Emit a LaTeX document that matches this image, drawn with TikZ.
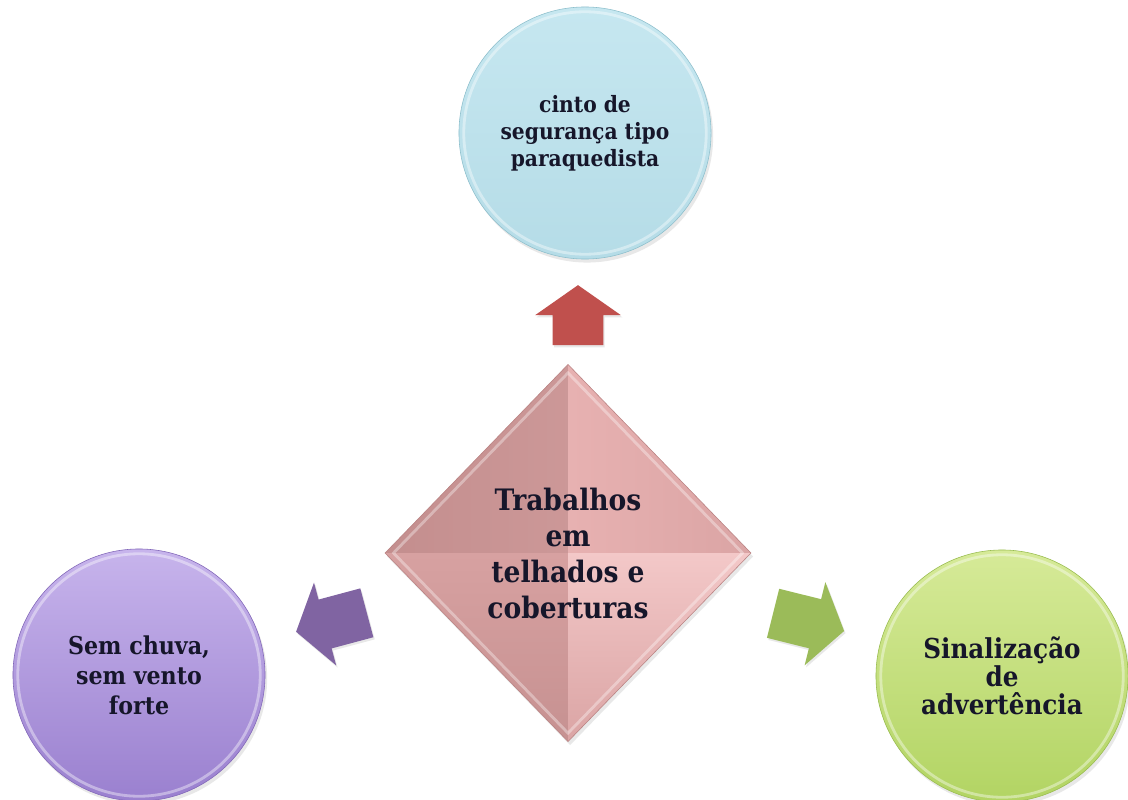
\documentclass[tikz,border=0pt]{standalone}
\usepackage{fontspec}
\newfontfamily\boxfont{DejaVu Serif Condensed Bold}
\usepackage{tikz}
\usetikzlibrary{
    shapes.geometric,
    shapes.arrows,
    positioning,
    shadows
}
\definecolor{textnavy}{HTML}{16162A}
\definecolor{cintotop}{HTML}{C6E7F0}
\definecolor{cintoblue}{HTML}{B5DCE7}
\definecolor{cintoedge}{HTML}{8DBFCC}
\definecolor{chuvatop}{HTML}{C7B4EC}
\definecolor{chuvapurple}{HTML}{9A80CF}
\definecolor{chuvaedge}{HTML}{8166B8}
\definecolor{sinaltop}{HTML}{D6EA98}
\definecolor{sinalgreen}{HTML}{B2D463}
\definecolor{sinaledge}{HTML}{98BC4E}
\definecolor{facettl}{HTML}{D09797}
\definecolor{facettr}{HTML}{E6ADAD}
\definecolor{facetbl}{HTML}{D59C9C}
\definecolor{facetbr}{HTML}{F3C8C8}
\definecolor{pyramidedge}{HTML}{B98282}
\definecolor{redarrow}{HTML}{C0504D}
\definecolor{purplearrow}{HTML}{8064A2}
\definecolor{greenarrow}{HTML}{9BBB59}
\tikzset{
  basic/.style = {
      draw,
      font=\boxfont,
      text=textnavy,
      align=center,
      inner sep=0pt,
      drop shadow={opacity=0.18, shadow xshift=1.5pt, shadow yshift=-2.5pt}
  },
  bubble/.style = {
      basic,
      circle,
      thin,
      minimum size=6.3cm,
      path picture={
        \draw[white, opacity=0.4, line width=2pt]
          (path picture bounding box.center) circle (3.03cm);
      }
  },
  pyramid/.style = {
      basic,
      diamond,
      draw=pyramidedge,
      minimum width=9.15cm,
      minimum height=9.43cm,
      font=\boxfont\fontsize{21}{25.6}\selectfont,
      path picture={
        \shade[left color=facettl!94!black, right color=facettl!90!white]
          (path picture bounding box.north) -- (path picture bounding box.west)
          -- (path picture bounding box.center) -- cycle;
        \shade[left color=facettr!95!white, right color=facettr!95!black]
          (path picture bounding box.north) -- (path picture bounding box.east)
          -- (path picture bounding box.center) -- cycle;
        \shade[top color=facetbl!95!white, bottom color=facetbl!93!black]
          (path picture bounding box.south) -- (path picture bounding box.west)
          -- (path picture bounding box.center) -- cycle;
        \shade[top color=facetbr, bottom color=facettr!95!black]
          (path picture bounding box.south) -- (path picture bounding box.east)
          -- (path picture bounding box.center) -- cycle;
        \draw[white, opacity=0.35, line width=2pt]
          ([yshift=-6pt]path picture bounding box.north)
          -- ([xshift=6pt]path picture bounding box.west)
          -- ([yshift=6pt]path picture bounding box.south)
          -- ([xshift=-6pt]path picture bounding box.east) -- cycle;
      }
  },
  blockarrow/.style = {
      single arrow,
      draw=none,
      inner xsep=0pt,
      inner ysep=0.625cm,
      single arrow head extend=0.44cm,
      single arrow tip angle=110,
      drop shadow={opacity=0.18, shadow xshift=1pt, shadow yshift=-1.5pt}
  }
}

\begin{document}
\begin{tikzpicture}[x=0.025cm, y=-0.025cm]
    \useasboundingbox[fill=white] (0,0) rectangle (1128,800);
    % Nodes
    \node[pyramid] (main) at (568,553) {Trabalhos\\em\\telhados e\\coberturas};
    \node[bubble, top color=cintotop, bottom color=cintoblue, draw=cintoedge,
          font=\boxfont\fontsize{16}{19.2}\selectfont]
          (cinto) at (585,133) {cinto de\\segurança tipo\\paraquedista};
    \node[bubble, top color=chuvatop, bottom color=chuvapurple, draw=chuvaedge,
          font=\boxfont\fontsize{17.5}{21.3}\selectfont]
          (chuva) at (139,675) {Sem chuva,\\sem vento\\forte};
    \node[bubble, top color=sinaltop, bottom color=sinalgreen, draw=sinaledge,
          font=\boxfont\fontsize{19.5}{20}\selectfont]
          (sinal) at (1002,676) {Sinalização\\de\\advertência};
    % Arrows
    \node[blockarrow, fill=redarrow, minimum height=1.5cm, rotate=90]
          (up) at (578,324) {};
    \node[blockarrow, fill=purplearrow, minimum height=1.83cm, rotate=195]
          (left) at (340,620) {};
    \node[blockarrow, fill=greenarrow, minimum height=1.83cm, rotate=-14]
          (right) at (800,620) {};
\end{tikzpicture}
\end{document}
